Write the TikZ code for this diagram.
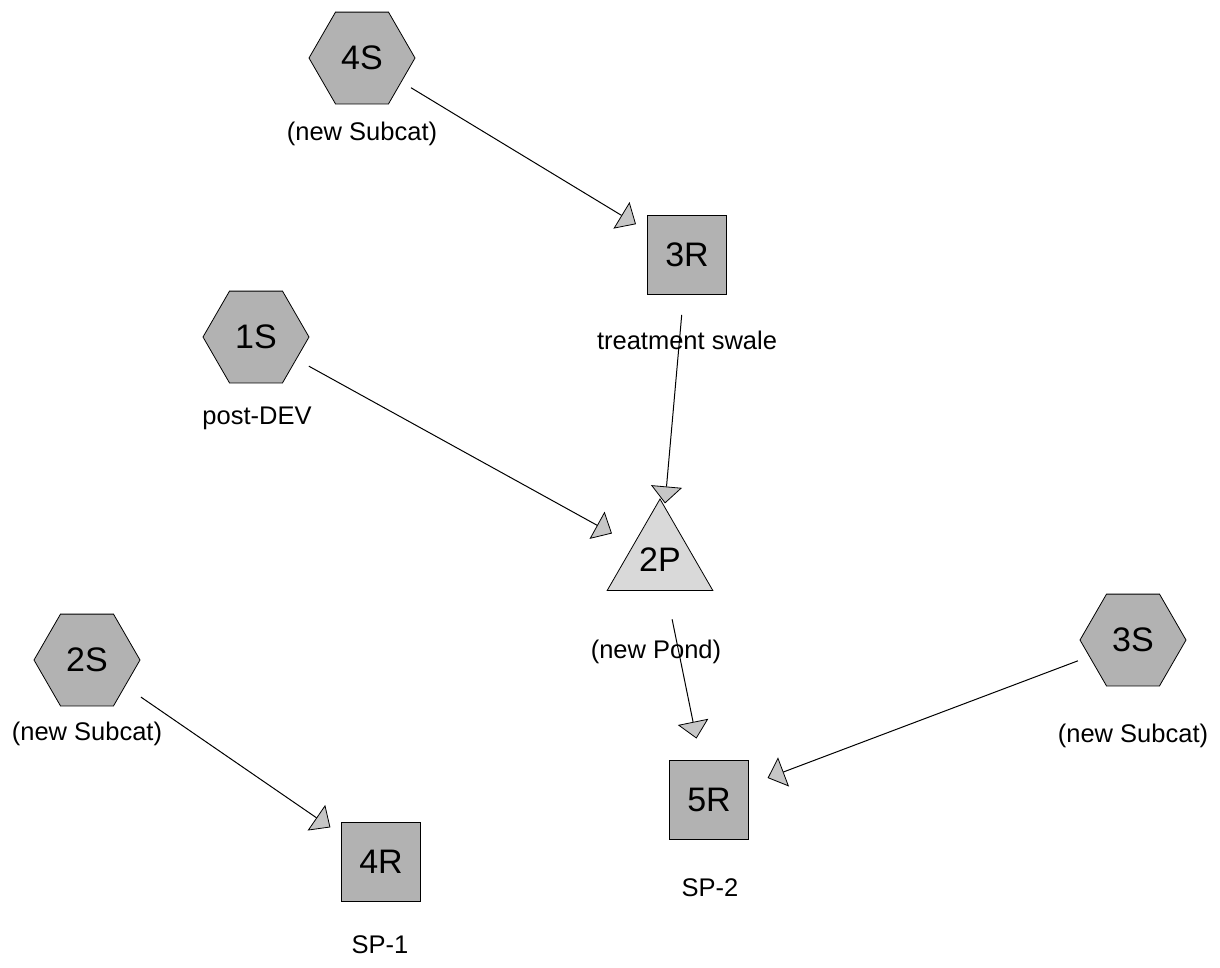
\documentclass[tikz,border=0pt]{standalone}
\usepackage{fontspec}
\setmainfont{Liberation Sans}
\usetikzlibrary{shapes.geometric,arrows.meta}

\begin{document}
\begin{tikzpicture}[x=1pt,y=-1pt]
    \tikzstyle{every node}+=[inner sep=0pt]
    \tikzstyle{subcat}=[draw=black, fill=gray!60, line width=0.8pt, regular polygon, regular polygon sides=6, minimum size=106pt, font=\fontsize{34}{36}\selectfont]
    \tikzstyle{reach}=[draw=black, fill=gray!60, line width=0.8pt, rectangle, minimum size=79pt, font=\fontsize{34}{36}\selectfont]
    \tikzstyle{pond}=[draw=black, fill=gray!30, line width=0.8pt, regular polygon, regular polygon sides=3, minimum size=122pt, font=\fontsize{34}{36}\selectfont]
    \tikzstyle{caption}=[anchor=base, font=\fontsize{25.5}{28}\selectfont]
    \tikzstyle{flow}=[black, line width=1pt, -{Triangle[length=17pt,width=31pt,fill=gray!45,line width=0.8pt]}]
    \useasboundingbox (0,0) rectangle (1220,967);
    % subcatchments, reaches and the pond
    \node [subcat] (s4) at (362,58) {4S};
    \node [caption] (s4lbl) at (362,140) {(new Subcat)};
    \node [reach] (r3) at (687,255) {3R};
    \node [caption] (r3lbl) at (687,349) {treatment swale};
    \node [subcat] (s1) at (256,337) {1S};
    \node [caption] (s1lbl) at (257,424) {post-DEV};
    \node [pond] (p2) at (660,560) {2P};
    \node [caption] (p2lbl) at (656,658) {(new Pond)};
    \node [subcat] (s2) at (87,660) {2S};
    \node [caption] (s2lbl) at (87,740) {(new Subcat)};
    \node [subcat] (s3) at (1133,640) {3S};
    \node [caption] (s3lbl) at (1133,742) {(new Subcat)};
    \node [reach] (r5) at (709,800) {5R};
    \node [caption] (r5lbl) at (710,896) {SP-2};
    \node [reach] (r4) at (381,862) {4R};
    \node [caption] (r4lbl) at (380,953) {SP-1};
    % links
    \draw [flow, shorten <=11pt, shorten >=13pt] (s4) -- (r3);
    \draw [flow, shorten <=20pt, shorten >=3pt] (r3) -- (p2);
    \draw [flow, shorten <=14pt, shorten >=24pt] (s1) -- (p2);
    \draw [flow, shorten <=29pt, shorten >=22pt] (p2) -- (r5);
    \draw [flow, shorten <=12pt, shorten >=20pt] (s3) -- (r5);
    \draw [flow, shorten <=19pt, shorten >=13pt] (s2) -- (r4);
\end{tikzpicture}
\end{document}
